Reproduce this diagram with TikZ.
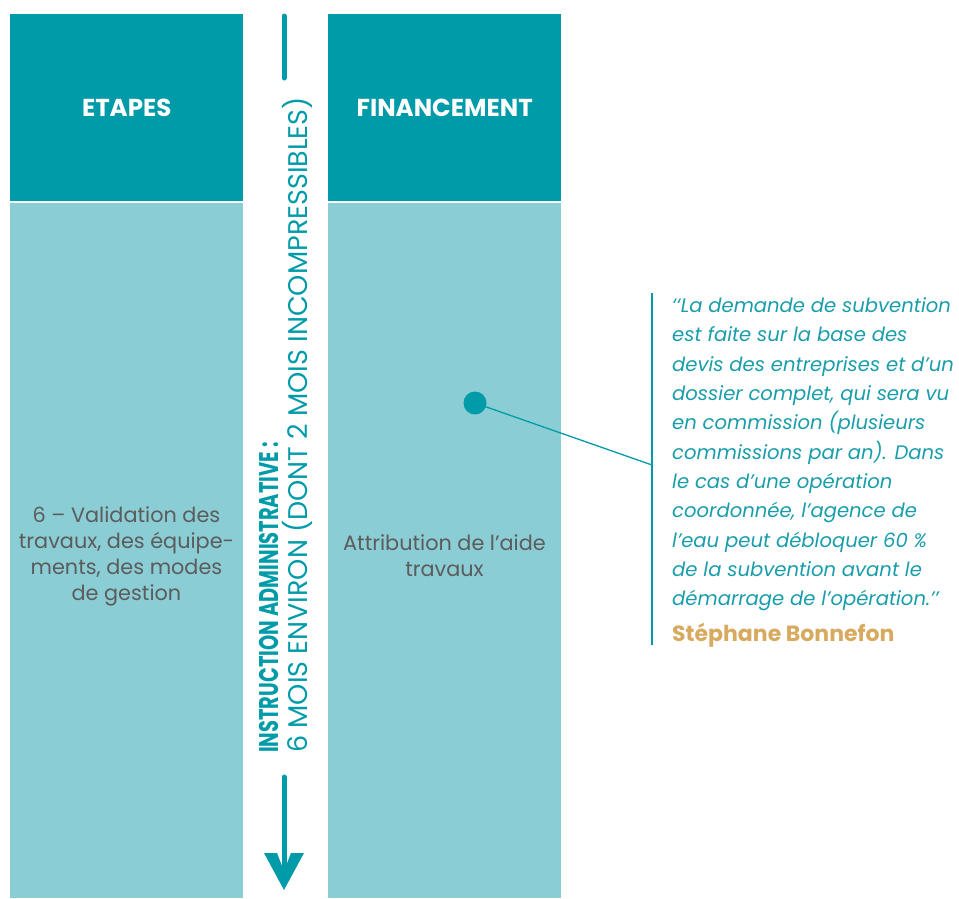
\documentclass[tikz,border=0pt]{standalone}
\usepackage{fontspec}
\setmainfont{Poppins}
\definecolor{darkteal}{HTML}{009BA9}
\definecolor{lightteal}{HTML}{8ACDD4}
\definecolor{quoteteal}{HTML}{1A9DAB}
\definecolor{gold}{HTML}{D8AA5F}
\definecolor{graytxt}{HTML}{5C5C5C}
\tikzset{
  headbox/.style={fill=darkteal, minimum width=233pt, minimum height=187pt, anchor=north west, inner sep=0pt,
    text=white, font=\fontsize{24.5}{28}\selectfont\bfseries},
  bodybox/.style={fill=lightteal, minimum width=233pt, minimum height=695pt, anchor=north west, inner sep=0pt},
  bodytext/.style={text=graytxt, align=center, font=\fontsize{20.8}{26.2}\selectfont, inner sep=0pt},
  teal line/.style={draw=darkteal, line width=5pt, line cap=round},
}
\begin{document}
\begin{tikzpicture}[x=1pt,y=-1pt]
\useasboundingbox (0,0) rectangle (959,898);
% columns
\node[headbox] (h1) at (10,14) {ETAPES};
\node[bodybox] (b1) at (10,203) {};
\node[headbox] (h2) at (328,14) {FINANCEMENT};
\node[bodybox] (b2) at (328,203) {};
\node[bodytext] (t1) at (126.5,556.5) {6 – Validation des\\travaux, des équipe-\\ments, des modes\\de gestion};
\node[bodytext] (t2) at (444.5,556) {Attribution de l’aide\\travaux};
% time arrow
\coordinate (at1) at (284,16);
\coordinate (at2) at (284,78);
\coordinate (ab1) at (284,777);
\coordinate (ab2) at (284,870);
\coordinate (tip) at (284,890);
\draw[teal line] (at1) -- (at2);
\draw[teal line] (ab1) -- (ab2);
\fill[darkteal] (264,853) -- (277,853) -- (284,871) -- (291,853) -- (304,853) -- (tip) -- cycle;
\node[rotate=90, anchor=west, inner sep=0pt, text=darkteal, align=left,
  font=\fontsize{27}{29}\selectfont] (vt) at (285.5,753)
  {\scalebox{0.72}[1]{\bfseries INSTRUCTION ADMINISTRATIVE :}\\6 MOIS ENVIRON (DONT 2 MOIS INCOMPRESSIBLES)};
% callout
\node[circle, fill=darkteal, minimum size=23pt, inner sep=0pt] (dot) at (475,403) {};
\coordinate (qmid) at (652,465);
\coordinate (qtop) at (652,293);
\coordinate (qbot) at (652,645);
\draw[darkteal, line width=1.3pt] (dot.center) -- (qmid);
\draw[darkteal, line width=1.3pt] (qtop) -- (qbot);
\node[anchor=north west, inner sep=0pt, align=left, text=quoteteal,
  font=\fontsize{19.6}{29.3}\selectfont\itshape] (quote) at (672,297.5)
  {‘‘La demande de subvention\\est faite sur la base des\\devis des entreprises et d’un\\dossier complet, qui sera vu\\en commission (plusieurs\\commissions par an). Dans\\le cas d’une opération\\coordonnée, l’agence de\\l’eau peut débloquer 60 \%\\de la subvention avant le\\démarrage de l’opération.’’};
\node[anchor=west, inner sep=0pt, text=gold, font=\fontsize{22}{26}\selectfont\bfseries] (author) at (672,635) {Stéphane Bonnefon};
\end{tikzpicture}
\end{document}
